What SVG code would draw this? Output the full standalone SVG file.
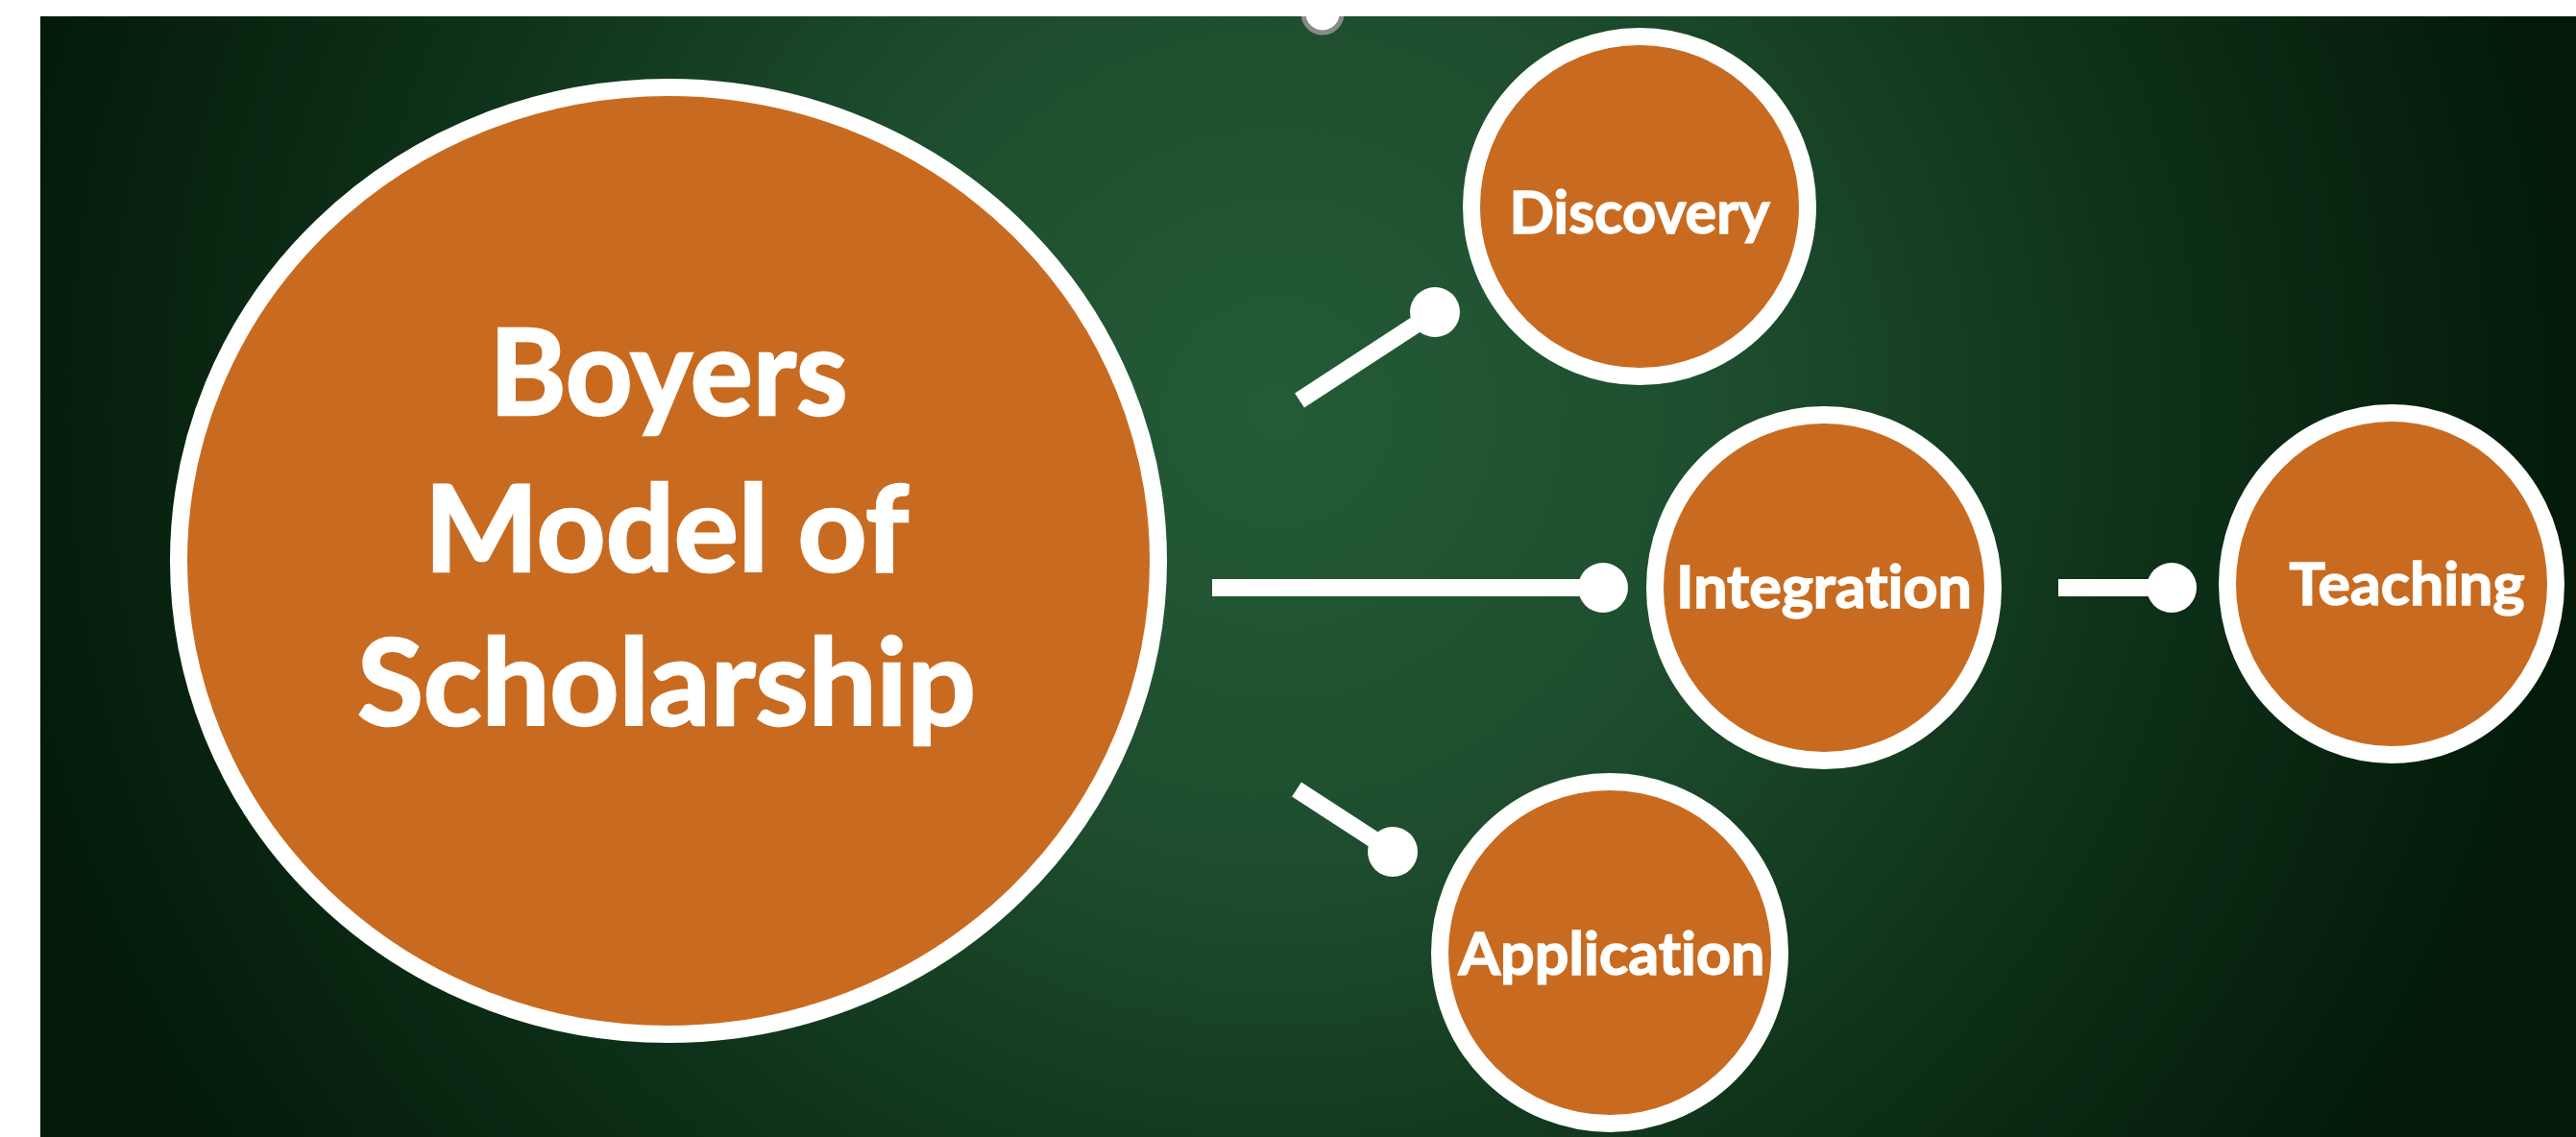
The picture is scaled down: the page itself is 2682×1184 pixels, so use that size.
<svg xmlns="http://www.w3.org/2000/svg" width="2682" height="1184" viewBox="0 0 2682 1184">
  <defs>
    <radialGradient id="bg" gradientUnits="userSpaceOnUse" cx="1330" cy="430" r="1350">
      <stop offset="0" stop-color="#245b37"/>
      <stop offset="0.35" stop-color="#1d4d2e"/>
      <stop offset="0.7" stop-color="#0d2f17"/>
      <stop offset="1" stop-color="#031a09"/>
    </radialGradient>
    <clipPath id="area">
      <rect x="42" y="17" width="2640" height="1167"/>
    </clipPath>
    <style>
      .node { fill: #c86b20; stroke: #ffffff; stroke-width: 18; }
      .label { fill: #ffffff; stroke: #ffffff; stroke-width: 1.5; font-family: Lato, "Open Sans", "Liberation Sans", sans-serif; font-weight: 700; text-anchor: middle; font-variant-ligatures: none; font-feature-settings: "liga" 0, "dlig" 0; }
      .small { font-size: 61px; }
      .big { font-size: 125px; stroke-width: 2.5; }
      .conn line { stroke: #ffffff; stroke-width: 18; stroke-linecap: butt; }
      .conn circle { fill: #ffffff; }
    </style>
  </defs>

  <rect x="0" y="0" width="2682" height="1184" fill="#ffffff"/>
  <rect x="42" y="17" width="2640" height="1167" fill="url(#bg)"/>

  <g clip-path="url(#area)">
    <circle cx="1377" cy="14" r="20" fill="#ffffff" stroke="#8a8a8a" stroke-width="5"/>
  </g>

  <g id="connectors" class="conn">
    <line x1="1353" y1="417" x2="1494" y2="325"/>
    <circle cx="1494" cy="325" r="26"/>
    <line x1="1262" y1="612" x2="1669" y2="612"/>
    <circle cx="1669" cy="612" r="26"/>
    <line x1="2143" y1="612" x2="2261" y2="612"/>
    <circle cx="2261" cy="612" r="26"/>
    <line x1="1350" y1="822" x2="1450" y2="887"/>
    <circle cx="1450" cy="887" r="26"/>
  </g>

  <g id="node-boyers">
    <ellipse class="node" cx="696" cy="584" rx="510" ry="493" stroke-width="17"/>
    <text class="label big" x="696" y="432" textLength="373" lengthAdjust="spacingAndGlyphs">Boyers</text>
    <text class="label big" x="694" y="595" textLength="504" lengthAdjust="spacingAndGlyphs">Model of</text>
    <text class="label big" x="694" y="755" textLength="644" lengthAdjust="spacingAndGlyphs">Scholarship</text>
  </g>

  <g id="node-discovery">
    <ellipse class="node" cx="1707" cy="215" rx="175" ry="177"/>
    <text class="label small" x="1707" y="243" textLength="271" lengthAdjust="spacingAndGlyphs">Discovery</text>
  </g>

  <g id="node-integration">
    <ellipse class="node" cx="1899" cy="612" rx="176" ry="180"/>
    <text class="label small" x="1899" y="633" textLength="308" lengthAdjust="spacingAndGlyphs">Integration</text>
  </g>

  <g id="node-teaching">
    <ellipse class="node" cx="2490" cy="608" rx="171" ry="178"/>
    <text class="label small" x="2506" y="630" textLength="245" lengthAdjust="spacingAndGlyphs">Teaching</text>
  </g>

  <g id="node-application">
    <ellipse class="node" cx="1676" cy="992" rx="177" ry="178"/>
    <text class="label small" x="1678" y="1015" textLength="319" lengthAdjust="spacingAndGlyphs">Application</text>
  </g>
</svg>
